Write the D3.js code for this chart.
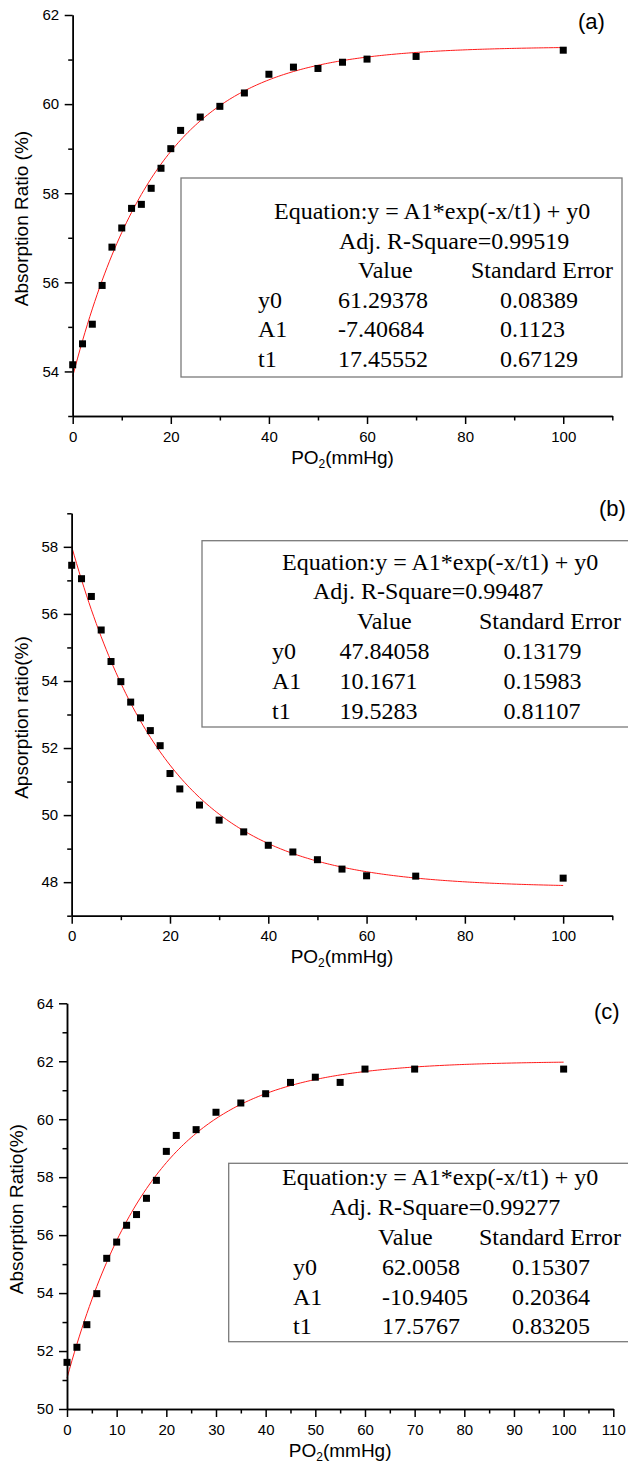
<!DOCTYPE html>
<html><head><meta charset="utf-8">
<script src="https://cdn.jsdelivr.net/npm/d3@7"></script>
<style>body{margin:0;background:#fff} svg{display:block}</style>
</head><body><svg id="chart" width="628" height="1467"></svg>
<script>
// ---------------- DATA ----------------
const pO2 = [0,2,4,6,8,10,12,14,16,18,20,22,26,30,35,40,45,50,55,60,70,100];
const ratioA = [54.15,54.62,55.06,55.93,56.79,57.22,57.66,57.75,58.11,58.56,59.00,59.41,59.71,59.95,60.25,60.67,60.83,60.80,60.94,61.01,61.07,61.21];
const ratioB = [57.45,57.05,56.52,55.52,54.58,53.98,53.37,52.90,52.52,52.07,51.24,50.78,50.30,49.85,49.50,49.10,48.90,48.67,48.39,48.19,48.18,48.12];
const ratioC = [51.61,52.13,52.91,53.98,55.20,55.76,56.34,56.71,57.27,57.89,58.89,59.44,59.64,60.24,60.56,60.88,61.27,61.45,61.27,61.73,61.73,61.73];

const paramNames = ["y0","A1","t1"];
const valuesA = ["61.29378","-7.40684","17.45552"];
const errorsA = ["0.08389","0.1123","0.67129"];
const adjR2A = "0.99519";
const valuesB = ["47.84058","10.1671","19.5283"];
const errorsB = ["0.13179","0.15983","0.81107"];
const adjR2B = "0.99487";
const valuesC = ["62.0058","-10.9405","17.5767"];
const errorsC = ["0.15307","0.20364","0.83205"];
const adjR2C = "0.99277";

const xTicksAB = [0,20,40,60,80,100];
const xMinorAB = [10,30,50,70,90,110];
const xTicksC = [0,10,20,30,40,50,60,70,80,90,100,110];
const xMinorC = [5,15,25,35,45,55,65,75,85,95,105];
const yTicksA = [54,56,58,60,62];
const yMinorA = [53,55,57,59,61];
const yTicksB = [48,50,52,54,56,58];
const yMinorB = [47,49,51,53,55,57,59];
const yTicksC = [50,52,54,56,58,60,62,64];
const yMinorC = [51,53,55,57,59,61,63];

const yTitles = ["Absorption Ratio (%)","Apsorption ratio(%)","Absorption Ratio(%)"];
const panelLabels = ["(a)","(b)","(c)"];
const equationText = "Equation:y = A1*exp(-x/t1) + y0";

// ---------------- LAYOUT ----------------
const panels = [
  {ys: ratioA, vals: valuesA, errs: errorsA, r2: adjR2A, xt: xTicksAB, xm: xMinorAB, yt: yTicksA, ym: yMinorA,
   xr: [72.7, 612.3], yd: [53, 62], yr: [416, 15], ytx: 28, ytitle: yTitles[0], label: panelLabels[0], lx: 578, ly: 29,
   box: [181, 178, 441, 199], eq: [274, 218.5], adj: [339, 248.5], headY: 278, valHX: 358, seHX: 471,
   rowY: [307.5, 337, 366.5], nameX: 258, valX: 338, seX: 500},
  {ys: ratioB, vals: valuesB, errs: errorsB, r2: adjR2B, xt: xTicksAB, xm: xMinorAB, yt: yTicksB, ym: yMinorB,
   xr: [71.7, 612.3], yd: [47, 59], yr: [915.7, 513.3], ytx: 28, ytitle: yTitles[1], label: panelLabels[1], lx: 599, ly: 516,
   box: [202, 540.7, 432, 186.3], eq: [282, 569.5], adj: [313, 599], headY: 628.5, valHX: 357, seHX: 479,
   rowY: [658.5, 688.5, 718.5], nameX: 272, valX: 339.5, seX: 503.5},
  {ys: ratioC, vals: valuesC, errs: errorsC, r2: adjR2C, xt: xTicksC, xm: xMinorC, yt: yTicksC, ym: yMinorC,
   xr: [67, 613.3], yd: [50, 64], yr: [1409, 1003.3], ytx: 23, ytitle: yTitles[2], label: panelLabels[2], lx: 594, ly: 1019,
   box: [228.7, 1163.3, 404, 178.4], eq: [282, 1185], adj: [330, 1215], headY: 1245, valHX: 378, seHX: 479,
   rowY: [1275, 1304.5, 1334], nameX: 293, valX: 382, seX: 512}
];

const sans = "'Liberation Sans', Arial, Helvetica, sans-serif";
const serif = "'Liberation Serif', 'Times New Roman', Times, serif";
const svg = d3.select("#chart");

panels.forEach(p => {
  const x = d3.scaleLinear().domain([0, 110]).range(p.xr);
  const y = d3.scaleLinear().domain(p.yd).range(p.yr);
  const g = svg.append("g");

  // fit box
  g.append("rect").attr("x", p.box[0]).attr("y", p.box[1]).attr("width", p.box[2]).attr("height", p.box[3])
    .attr("fill", "#fff").attr("stroke", "#7a7a7a").attr("stroke-width", 1.3);

  const txt = (t, tx, ty) => g.append("text").attr("x", tx).attr("y", ty).text(t)
    .attr("font-family", serif).attr("font-size", 24).attr("fill", "#000");
  txt(equationText, p.eq[0], p.eq[1]);
  txt("Adj. R-Square=" + p.r2, p.adj[0], p.adj[1]);
  txt("Value", p.valHX, p.headY);
  txt("Standard Error", p.seHX, p.headY);
  paramNames.forEach((n, i) => {
    txt(n, p.nameX, p.rowY[i]);
    txt(p.vals[i], p.valX, p.rowY[i]);
    txt(p.errs[i], p.seX, p.rowY[i]);
  });

  // fit curve from the chart's own fitted parameters
  const y0 = +p.vals[0], A1 = +p.vals[1], t1 = +p.vals[2];
  const curveX = d3.range(0, 100.5, 0.5);
  g.append("path").datum(curveX)
    .attr("d", d3.line().x(d => x(d)).y(d => y(A1 * Math.exp(-d / t1) + y0)))
    .attr("fill", "none").attr("stroke", "#ff1a1a").attr("stroke-width", 1);

  // points
  g.selectAll("rect.pt").data(pO2.map((v, i) => [v, p.ys[i]])).enter().append("rect")
    .attr("class", "pt").attr("x", d => x(d[0]) - 3.5).attr("y", d => y(d[1]) - 3.5)
    .attr("width", 7).attr("height", 7).attr("fill", "#000");

  // axes
  const styleAxis = sel => {
    sel.selectAll("path, line").attr("stroke", "#000").attr("stroke-width", 1.5);
    sel.selectAll("text").attr("font-family", sans).attr("font-size", 15).attr("fill", "#000");
  };
  const xb = y.range()[0];
  g.append("g").attr("transform", `translate(0,${xb})`)
    .call(d3.axisBottom(x).tickValues(p.xm).tickSize(4.5).tickSizeOuter(0).tickFormat(""))
    .call(styleAxis);
  g.append("g").attr("transform", `translate(0,${xb})`)
    .call(d3.axisBottom(x).tickValues(p.xt).tickSize(8).tickSizeOuter(0).tickPadding(7).tickFormat(d3.format("d")))
    .call(styleAxis);
  const yl = x.range()[0];
  g.append("g").attr("transform", `translate(${yl},0)`)
    .call(d3.axisLeft(y).tickValues(p.ym).tickSize(4.5).tickSizeOuter(0).tickFormat(""))
    .call(styleAxis);
  g.append("g").attr("transform", `translate(${yl},0)`)
    .call(d3.axisLeft(y).tickValues(p.yt).tickSize(8).tickSizeOuter(0).tickPadding(5.5).tickFormat(d3.format("d")))
    .call(styleAxis);

  // axis titles
  const xt = g.append("text").attr("x", (p.xr[0] + p.xr[1]) / 2).attr("y", xb + 47.5)
    .attr("text-anchor", "middle").attr("font-family", sans).attr("font-size", 19).attr("fill", "#000");
  xt.append("tspan").text("PO");
  xt.append("tspan").text("2").attr("font-size", 12).attr("dy", 4);
  xt.append("tspan").text("(mmHg)").attr("dy", -4);

  g.append("text").attr("transform", `translate(${p.ytx},${(p.yr[0] + p.yr[1]) / 2 + 3}) rotate(-90)`)
    .attr("text-anchor", "middle").attr("font-family", sans).attr("font-size", 19).attr("fill", "#000")
    .text(p.ytitle);

  g.append("text").attr("x", p.lx).attr("y", p.ly).text(p.label)
    .attr("font-family", sans).attr("font-size", 22).attr("fill", "#000");
});
</script></body></html>
